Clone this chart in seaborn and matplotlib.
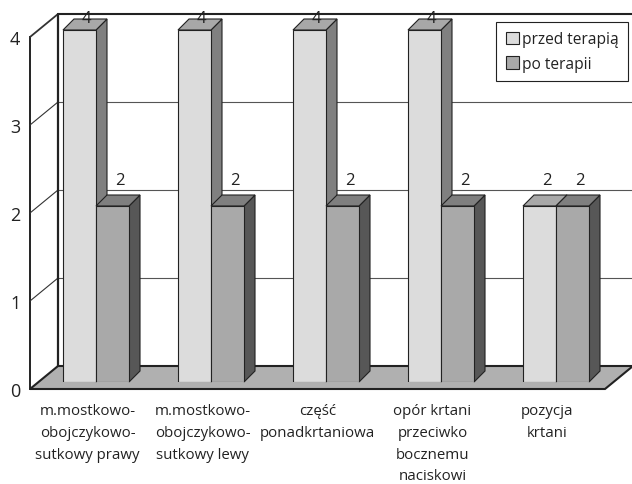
import matplotlib
matplotlib.use("Agg")
import matplotlib.pyplot as plt
from matplotlib.patches import Polygon, Patch
import seaborn as sns
import pandas as pd

# Data
categories = ["m.mostkowo-\nobojczykowo-\nsutkowy prawy",
              "m.mostkowo-\nobojczykowo-\nsutkowy lewy",
              "część\nponadkrtaniowa",
              "opór krtani\nprzeciwko\nbocznemu\nnaciskowi",
              "pozycja\nkrtani"]
series_names = ["przed terapią", "po terapii"]
przed = [4, 4, 4, 4, 2]
po = [2, 2, 2, 2, 2]
y_ticks = [0, 1, 2, 3, 4]

front_colors = ["#dcdcdc", "#a9a9a9"]
top_colors = ["#a8a8a8", "#7f7f7f"]
side_colors = ["#808080", "#575757"]
line_col = "#222222"

df = pd.DataFrame({
    "kategoria": categories * 2,
    "seria": [series_names[0]] * len(categories) + [series_names[1]] * len(categories),
    "wartosc": przed + po,
})

sns.set_style("white")
plt.rcParams["font.family"] = ["Open Sans", "DejaVu Sans"]
plt.rcParams["text.color"] = line_col

W, H = 632, 485
fig = plt.figure(figsize=(W / 100, H / 100), dpi=100)

# front plane in pixels (axis line and floor edge), bar plane shifted into depth
fx0, fx1, fy0, fy1 = 30, 605, 390, 38
bx, by = 8.5, 7          # bar plane offset from front
depth_x, depth_y = 28, 23  # front -> back wall offset
ux = (fx1 - fx0) / 5
uy = (fy0 - fy1) / 4

ax_f = fig.add_axes([fx0 / W, 1 - fy0 / H, (fx1 - fx0) / W, (fy0 - fy1) / H])
ax = fig.add_axes([(fx0 + bx) / W, 1 - (fy0 - by) / H, (fx1 - fx0) / W, (fy0 - fy1) / H])
ax.patch.set_visible(False)


def pt(x, v, t):
    # t = 0 front plane, t = 1 back wall, coords in bar-axes data units
    return (x + (-bx + depth_x * t) / ux, v + (-by + depth_y * t) / uy)


xmin, xmax = -0.5, len(categories) - 0.5
ymin, ymax = y_ticks[0], y_ticks[-1]

# bars
sns.barplot(data=df, x="kategoria", y="wartosc", hue="seria", palette=front_colors,
            width=0.574, edgecolor=line_col, linewidth=0.8, ax=ax, legend=False)
ax.set_xlim(xmin, xmax)
ax.set_ylim(ymin, ymax)
ax.set_xticks([])
ax.set_yticks([])
ax.set_xlabel("")
ax.set_ylabel("")
sns.despine(ax=ax, left=True, bottom=True)

# floor
floor = Polygon([pt(xmin, 0, 0), pt(xmax, 0, 0), pt(xmax, 0, 1), pt(xmin, 0, 1)],
                closed=True, fc="#b0b0b0", ec=line_col, lw=1.5, zorder=0.5, clip_on=False)
ax.add_patch(floor)

# back wall grid + edges, left wall diagonals
for v in y_ticks[1:]:
    x_a, y_a = pt(xmin, v, 1)
    x_b, _ = pt(xmax + 0.5, v, 1)
    lw = 1.5 if v == ymax else 0.8
    ax.plot([x_a, x_b], [y_a, y_a], color=line_col if v == ymax else "#555555",
            lw=lw, zorder=0.8, clip_on=False)
    f = pt(xmin, v, 0)
    ax.plot([f[0], x_a], [f[1], y_a], color="#333333", lw=0.8 if v < ymax else 1.3,
            zorder=0.8, clip_on=False)
b0, b1 = pt(xmin, 0, 1), pt(xmin, ymax, 1)
ax.plot([b0[0], b1[0]], [b0[1], b1[1]], color=line_col, lw=1.6, zorder=0.8, clip_on=False)

# 3D faces and value labels
dxb, dyb = 11 / ux, 11 / uy
for i, cont in enumerate(ax.containers):
    for bar in cont:
        x0, w, h = bar.get_x(), bar.get_width(), bar.get_height()
        x1 = x0 + w
        bar.set_zorder(3 + 2 * i)
        side = Polygon([(x1, 0), (x1 + dxb, dyb), (x1 + dxb, h + dyb), (x1, h)],
                       fc=side_colors[i], ec=line_col, lw=0.8, zorder=2 + 2 * i, clip_on=False)
        top = Polygon([(x0, h), (x1, h), (x1 + dxb, h + dyb), (x0 + dxb, h + dyb)],
                      fc=top_colors[i], ec=line_col, lw=0.8, zorder=2 + 2 * i, clip_on=False)
        ax.add_patch(side)
        ax.add_patch(top)
        ax.text(x0 + w / 2 + 0.06, min(h + 0.2, ymax + 0.04), f"{h:g}",
                ha="center", va="bottom", fontsize=12, zorder=10, clip_on=False)

# front axis
ax_f.set_xlim(xmin, xmax)
ax_f.set_ylim(ymin, ymax)
for s in ["top", "right", "bottom"]:
    ax_f.spines[s].set_visible(False)
ax_f.spines["left"].set_linewidth(1.4)
ax_f.spines["left"].set_color(line_col)
ax_f.set_yticks(y_ticks)
ax_f.set_yticklabels([str(t) for t in y_ticks])
ax_f.set_xticks(range(len(categories)))
ax_f.set_xticklabels(categories, fontsize=10.8, linespacing=1.62, va="top")
ax_f.set_xticks([xmin + k for k in range(len(categories) + 1)], minor=True)
ax_f.tick_params(axis="x", which="major", length=0, pad=10, colors=line_col)
ax_f.tick_params(axis="x", which="minor", length=8, width=1, direction="out", color=line_col)
ax_f.tick_params(axis="y", length=4, width=1, direction="out", labelsize=13, pad=3, colors=line_col)
ax_f.grid(False)

# legend
handles = [Patch(fc=c, ec=line_col, lw=0.8, label=s) for c, s in zip(front_colors, series_names)]
leg = ax.legend(handles=handles, loc="upper right", bbox_to_anchor=(628 / W, 1 - 23 / H),
                bbox_transform=fig.transFigure, frameon=True, fancybox=False,
                edgecolor=line_col, framealpha=1, fontsize=11.2, handlelength=0.85,
                handleheight=0.85, handletextpad=0.2, borderpad=0.6, labelspacing=0.55,
                borderaxespad=0)
leg.set_zorder(20)
leg.get_frame().set_linewidth(0.8)

fig.savefig("out.png", dpi=100)
